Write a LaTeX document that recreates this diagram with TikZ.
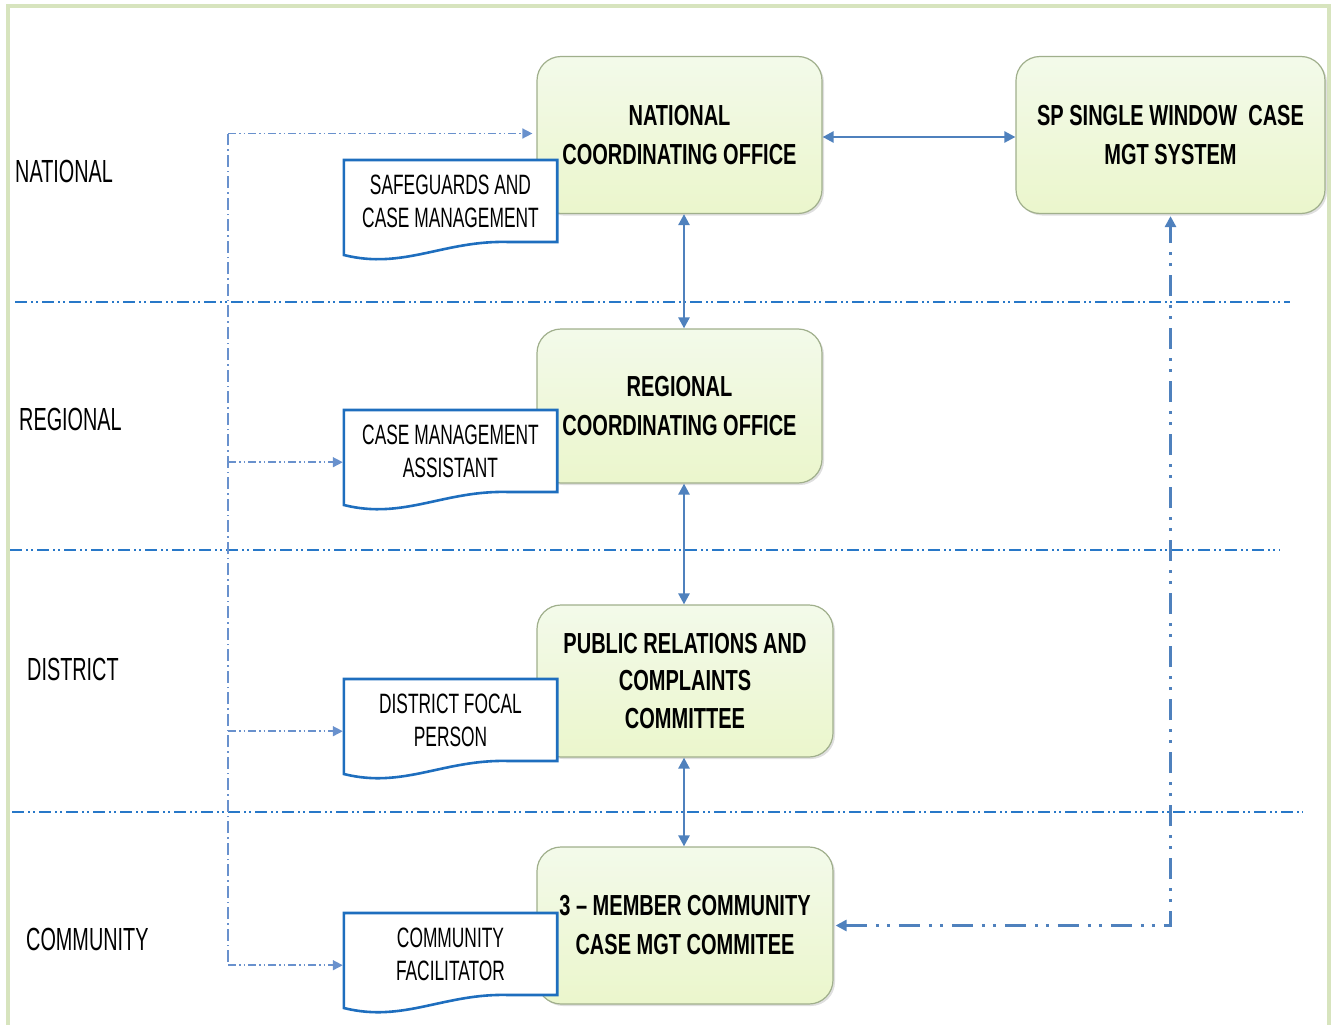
\documentclass[tikz,border=0pt]{standalone}
\usepackage{fontspec}
\setmainfont{Liberation Sans}
\newfontfamily\lblfont{Liberation Sans}[FakeStretch=0.62]
\newfontfamily\boxfont{Liberation Sans}[FakeStretch=0.69]
\usetikzlibrary{arrows.meta,calc,shadows}
\definecolor{arrowblue}{RGB}{79,129,189}
\definecolor{sepblue}{RGB}{40,120,200}
\definecolor{vblue}{RGB}{105,145,205}
\definecolor{docblue}{RGB}{30,110,190}
\definecolor{boxedge}{RGB}{160,175,140}
\definecolor{boxtop}{RGB}{243,250,234}
\definecolor{boxbot}{RGB}{235,246,204}
\definecolor{framegreen}{RGB}{215,228,190}
\tikzset{
  orgbox/.style={rounded corners=24pt, draw=boxedge, line width=1.2pt,
    top color=boxtop, bottom color=boxbot, align=center, inner sep=0pt,
    font=\boxfont\bfseries\fontsize{29}{39}\selectfont,
    drop shadow={shadow xshift=2pt, shadow yshift=-2pt, opacity=0.25}},
  docframe/.style={draw=none, minimum width=213pt, minimum height=104pt, inner sep=0pt, anchor=north},
  doctext/.style={font=\lblfont\fontsize{28}{33}\selectfont, align=center, inner sep=0pt},
  docline/.style={draw=docblue, line width=2.6pt, fill=white, line join=miter},
  levellabel/.style={font=\lblfont\fontsize{32}{38}\selectfont, anchor=west, inner sep=0pt},
  sepline/.style={draw=sepblue, line width=2pt, dash pattern=on 12pt off 4pt on 2pt off 3pt on 2pt off 4pt},
  vline/.style={draw=vblue, line width=1.5pt, dash pattern=on 12pt off 4pt on 1.5pt off 4pt},
  branch/.style={draw=vblue, line width=1.5pt, dash pattern=on 8pt off 3pt on 1.5pt off 3pt on 1.5pt off 3pt,
    -{Triangle[width=10pt,length=10pt]}, shorten >=1pt},
  solidarrow/.style={draw=arrowblue, line width=2.5pt,
    {Triangle[width=11pt,length=11pt]}-{Triangle[width=11pt,length=11pt]}},
  spline/.style={draw=arrowblue, line width=3pt,
    dash pattern=on 21pt off 9pt on 3pt off 8pt on 3pt off 9pt,
    {Triangle[width=11pt,length=11pt]}-{Triangle[width=11pt,length=11pt]}},
}
\begin{document}
\begin{tikzpicture}[x=1pt,y=-1pt]
\useasboundingbox (0,0) rectangle (1333,1025);
% outer frame
\draw[framegreen, line width=4pt] (8,6) rectangle (1329,1040);
% separators
\draw[sepline] (15,302) -- (1290,302);
\draw[sepline] (10,550) -- (1280,550);
\draw[sepline] (12,812) -- (1303,812);
% level labels
\node[levellabel] (lnat) at (15,171) {NATIONAL};
\node[levellabel] (lreg) at (19,419) {REGIONAL};
\node[levellabel] (ldis) at (27,669) {DISTRICT};
\node[levellabel] (lcom) at (26,939) {COMMUNITY};
% boxes
\node[orgbox, minimum width=285pt, minimum height=157pt] (nco) at (679.5,135) {NATIONAL\\COORDINATING OFFICE};
\node[orgbox, minimum width=309pt, minimum height=157pt] (sp) at (1170.5,135) {SP SINGLE WINDOW\ \ CASE\\MGT SYSTEM};
\node[orgbox, minimum width=285pt, minimum height=154pt] (rco) at (679.5,406) {REGIONAL\\COORDINATING OFFICE};
\node[orgbox, minimum width=296pt, minimum height=152pt, font=\boxfont\bfseries\fontsize{29}{37.5}\selectfont] (prc) at (685,681) {PUBLIC RELATIONS AND\\COMPLAINTS\\COMMITTEE};
\node[orgbox, minimum width=296pt, minimum height=157pt] (cmc) at (685,925.5) {3 – MEMBER COMMUNITY\\CASE MGT COMMITEE};
% document shapes
\foreach \n/\top/\txt in {d1/160/{SAFEGUARDS AND\\CASE MANAGEMENT},
                           d2/410/{CASE MANAGEMENT\\ASSISTANT},
                           d3/679/{DISTRICT FOCAL\\PERSON},
                           d4/913/{COMMUNITY\\FACILITATOR}}{
  \node[docframe] (\n) at (450.5,\top) {};
  \draw[docline] (\n.north west) -- (\n.north east) -- ($(\n.north east)+(0,82)$)
     -- ($(\n.north west)+(165,82)$)
     .. controls ($(\n.north west)+(100,80)$) and ($(\n.north west)+(60,110)$) .. ($(\n.north west)+(0,95)$)
     -- cycle;
  \node[doctext] (\n t) at ($(\n.north)+(0,41.5)$) {\txt};
}
% left vertical dash-dot line and branches
\coordinate (vtop) at (228,133.5);
\coordinate (vbot) at (228,962);
\draw[vline] (vbot) -- (vtop);
\draw[branch, shorten >=4pt] (vtop) -- (vtop -| nco.west);
\draw[branch] (d2.west -| vtop) -- (d2.west);
\draw[branch] (d3.west -| vtop) -- (d3.west);
\draw[branch] (d4.west -| vtop) -- (d4.west);
% solid arrows
\coordinate (col) at (684,0);
\coordinate (row) at (0,137);
\draw[solidarrow] (row -| nco.east) -- (row -| sp.west);
\draw[solidarrow] (nco.south -| col) -- (rco.north -| col);
\draw[solidarrow] (rco.south -| col) -- (prc.north -| col);
\draw[solidarrow] (prc.south -| col) -- (cmc.north -| col);
% SP system to community committee
\draw[spline, shorten <=2pt, shorten >=2pt] (cmc.east) -| (sp.south);
\end{tikzpicture}
\end{document}
